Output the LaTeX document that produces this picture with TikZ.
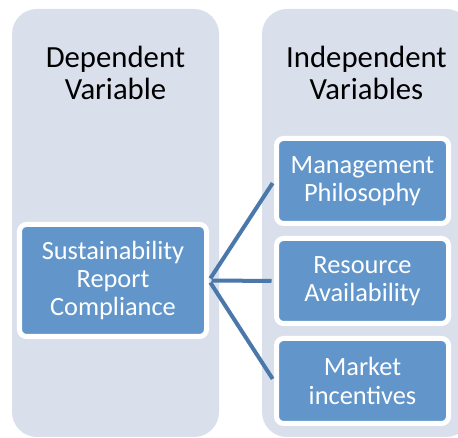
\documentclass[tikz,border=0pt]{standalone}
\usepackage{fontspec}
\setmainfont{Carlito}
\usepackage{tikz}
\usetikzlibrary{positioning}
\definecolor{panelfill}{RGB}{218,223,236}
\definecolor{boxfill}{RGB}{98,150,203}
\definecolor{linkblue}{RGB}{74,120,170}

\begin{document}
\begin{tikzpicture}[
  panel/.style={fill=panelfill, rounded corners=0.5cm},
  varbox/.style={draw=white, line width=0.1cm, fill=boxfill, rounded corners=0.14cm,
    text=white, align=center, font=\fontsize{15}{16}\selectfont},
  heading/.style={align=center, font=\fontsize{17.5}{18.5}\selectfont},
  link/.style={draw=linkblue, line width=0.08cm, shorten <=0.05cm, shorten >=0.05cm}
]

\useasboundingbox (0,0) rectangle (9.16,8.76);
\clip (0,0) rectangle (9.16,8.76);

% the two columns
\fill[panel] (0.24,0.02) rectangle (4.38,8.58);
\fill[panel] (5.24,0.02) rectangle (9.42,8.58);

\node[heading] (dephead) at (2.31,7.3) {Dependent\\Variable};
\node[heading] (indhead) at (7.33,7.3) {Independent\\Variables};

\node[varbox, minimum width=3.74cm, minimum height=2.24cm] (src) at (2.26,3.15)
{Sustainability\\Report\\Compliance};

\node[varbox, minimum width=3.44cm, minimum height=1.7cm] (mgmt) at (7.25,5.14)
{Management\\Philosophy};
\node[varbox, minimum width=3.44cm, minimum height=1.7cm] (res) at (7.25,3.14)
{Resource\\Availability};
\node[varbox, minimum width=3.44cm, minimum height=1.7cm] (mkt) at (7.25,1.14)
{Market\\incentives};

\foreach \n in {mgmt,res,mkt}
\draw[link] (src.east) -- (\n.west);

\end{tikzpicture}
\end{document}
